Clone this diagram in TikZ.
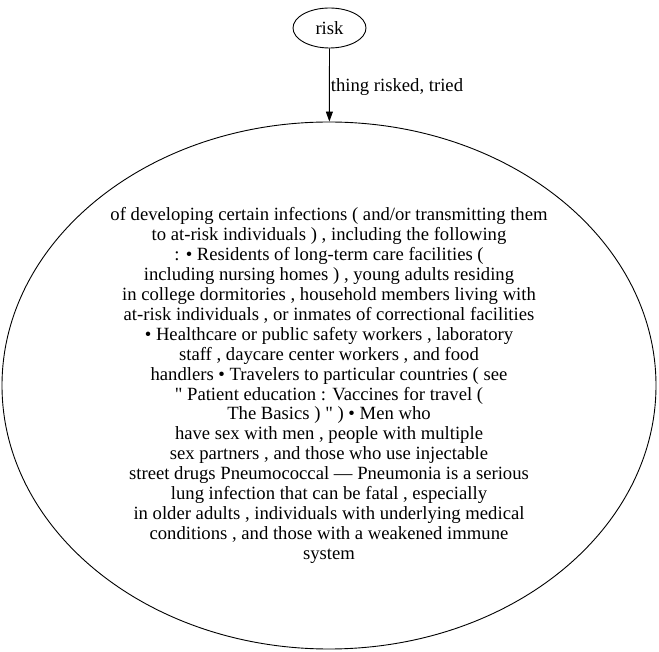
\documentclass[tikz,border=0pt]{standalone}
\usepackage{fontspec}
\setmainfont{Liberation Serif}[Ligatures=TeXOff]
\usetikzlibrary{shapes.geometric,arrows.meta}
\begin{document}
\begin{tikzpicture}[x=1pt,y=1pt,
  every node/.style={font=\fontsize{18.67}{19.94}\selectfont},
  gvnode/.style={draw,ellipse,line width=0.9pt,inner sep=0pt},
  gvedge/.style={line width=0.9pt,-{Triangle[length=10pt,width=7pt]}},
  elabel/.style={anchor=west,inner sep=1pt,yshift=-2.5pt}]
\useasboundingbox (0,0) rectangle (659,651);
\node[gvnode,minimum width=73pt,minimum height=40pt] (risk) at (329.5,623) {risk};
\node[gvnode,minimum width=654pt,minimum height=527pt,align=center] (big) at (329,265.5)
{of developing certain infections ( and/or transmitting them\\
to at-risk individuals ) , including the following\\
: • Residents of long-term care facilities (\\
including nursing homes ) , young adults residing\\
in college dormitories , household members living with\\
at-risk individuals , or inmates of correctional facilities\\
• Healthcare or public safety workers , laboratory\\
staff , daycare center workers , and food\\
handlers • Travelers to particular countries ( see\\
" Patient education : Vaccines for travel (\\
The Basics ) " ) • Men who\\
have sex with men , people with multiple\\
sex partners , and those who use injectable\\
street drugs Pneumococcal — Pneumonia is a serious\\
lung infection that can be fatal , especially\\
in older adults , individuals with underlying medical\\
conditions , and those with a weakened immune\\
system};
\draw[gvedge] (risk) -- node[elabel] {thing risked, tried} (big);
\end{tikzpicture}
\end{document}
